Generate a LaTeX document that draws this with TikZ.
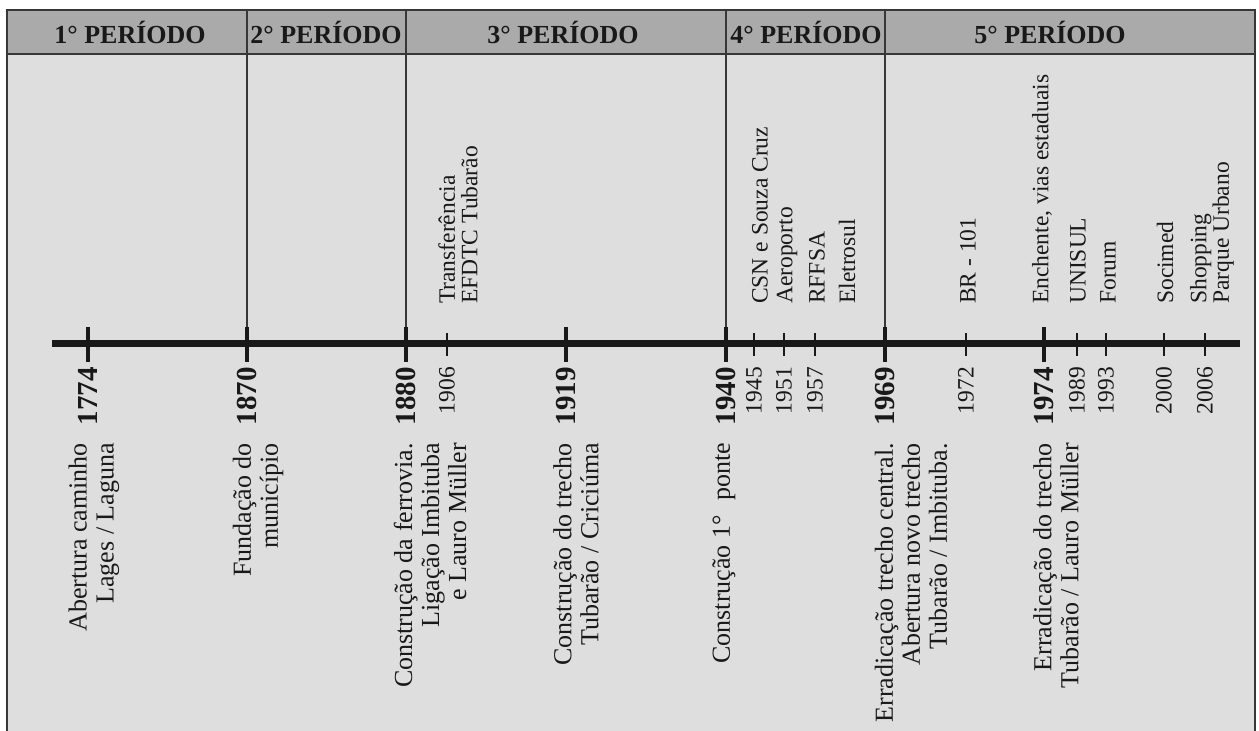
\documentclass[tikz,border=0pt]{standalone}
\usepackage{fontspec}
\setmainfont{Liberation Serif}
\definecolor{headgray}{RGB}{170,170,170}
\definecolor{bodygray}{RGB}{222,222,222}
\definecolor{bordergray}{RGB}{55,55,55}
\definecolor{inkblack}{RGB}{25,25,25}
\begin{document}
\begin{tikzpicture}[x=1pt,y=-1pt,
  frameline/.style={draw=bordergray, line width=2.4pt},
  headdiv/.style={draw=bordergray, line width=2pt},
  bodydiv/.style={draw=bordergray, line width=1.3pt},
  timeline/.style={draw=inkblack, line width=7pt},
  majortick/.style={draw=inkblack, line width=4pt},
  minortick/.style={draw=inkblack, line width=1.6pt},
  period/.style={inner sep=0pt, text=inkblack, font=\fontsize{26}{26}\selectfont\bfseries},
  yearmajor/.style={rotate=90, anchor=east, inner sep=0pt, text=inkblack, font=\fontsize{29}{29}\selectfont\bfseries},
  yearminor/.style={rotate=90, anchor=east, inner sep=0pt, text=inkblack, font=\fontsize{23.5}{24}\selectfont},
  lowevent/.style={rotate=90, anchor=east, inner sep=0pt, align=right, text=inkblack, font=\fontsize{26}{27}\selectfont},
  highevent/.style={rotate=90, anchor=west, inner sep=0pt, align=left, text=inkblack, font=\fontsize{23.5}{22.5}\selectfont},
]
\useasboundingbox (0,0) rectangle (1259,731);
\fill[white] (0,0) rectangle (1259,731);
\fill[bodygray] (7,54) rectangle (1255,731);
\fill[headgray] (7,10) rectangle (1255,54);
\draw[frameline] (7,731) -- (7,10) -- (1255,10) -- (1255,731);
\draw[frameline] (7,54) -- (1255,54);
% header dividers and body dividers
\foreach \x in {247,406,726,885} {
  \draw[headdiv] (\x,10) -- (\x,54);
  \draw[bodydiv] (\x,54) -- (\x,340);
}
% header labels
\node[period] (p1) at (130,32) {1° PERÍODO};
\node[period] (p2) at (326,32) {2° PERÍODO};
\node[period] (p3) at (563,32) {3° PERÍODO};
\node[period] (p4) at (806,32) {4° PERÍODO};
\node[period] (p5) at (1050,32) {5° PERÍODO};
% timeline
\coordinate (tlstart) at (52,343.5);
\coordinate (tlend) at (1240,343.5);
\draw[timeline] (tlstart) -- (tlend);
\foreach \x in {88,247,406,566,726,885,1044} {
  \draw[majortick] (\x,327) -- (\x,362);
}
\foreach \x in {447,754,784,815,966,1077,1106,1164,1205} {
  \draw[minortick] (\x,333) -- (\x,356);
}
% years
\node[yearmajor] (y1774) at (88,367) {1774};
\node[yearmajor] (y1870) at (247,367) {1870};
\node[yearmajor] (y1880) at (406,367) {1880};
\node[yearminor] (y1906) at (447,367) {1906};
\node[yearmajor] (y1919) at (566,367) {1919};
\node[yearmajor] (y1940) at (726,367) {1940};
\node[yearminor] (y1945) at (754,367) {1945};
\node[yearminor] (y1951) at (784,367) {1951};
\node[yearminor] (y1957) at (815,367) {1957};
\node[yearmajor] (y1969) at (885,367) {1969};
\node[yearminor] (y1972) at (966,367) {1972};
\node[yearmajor] (y1974) at (1044,367) {1974};
\node[yearminor] (y1989) at (1077,367) {1989};
\node[yearminor] (y1993) at (1106,367) {1993};
\node[yearminor] (y2000) at (1164,367) {2000};
\node[yearminor] (y2006) at (1205,367) {2006};
% events below the line
\node[lowevent] (e1774) at (94,443) {Abertura caminho\\Lages / Laguna};
\node[lowevent] (e1870) at (258,443) {Fundação do\\município};
\node[lowevent] (e1880) at (430,443) {Construção da ferrovia.\\Ligação Imbituba\\e Lauro Müller};
\node[lowevent] (e1919) at (576,443) {Construção do trecho\\Tubarão / Criciúma};
\node[lowevent] (e1940) at (724,443) {Construção 1°\hspace{0.55em}ponte};
\node[lowevent] (e1969) at (911,443) {Erradicação trecho central.\\Abertura novo trecho\\Tubarão / Imbituba.};
\node[lowevent] (e1974) at (1056,443) {Erradicação do trecho\\Tubarão / Lauro Müller};
% events above the line
\node[highevent] (e1906) at (458,304) {Transferência\\EFDTC Tubarão};
\node[highevent] (e1945) at (760,304) {CSN e Souza Cruz};
\node[highevent] (e1951) at (787,304) {Aeroporto};
\node[highevent] (e1957) at (817,304) {RFFSA};
\node[highevent] (eeletro) at (847,304) {Eletrosul};
\node[highevent] (e1972) at (968,304) {BR - 101};
\node[highevent] (e1974u) at (1042,304) {Enchente, vias estaduais};
\node[highevent] (e1989) at (1078,304) {UNISUL};
\node[highevent] (e1993) at (1108,304) {Forum};
\node[highevent] (e2000) at (1165,304) {Socimed};
\node[highevent] (e2006) at (1212,304) {Shopping\\Parque Urbano};
\end{tikzpicture}
\end{document}
